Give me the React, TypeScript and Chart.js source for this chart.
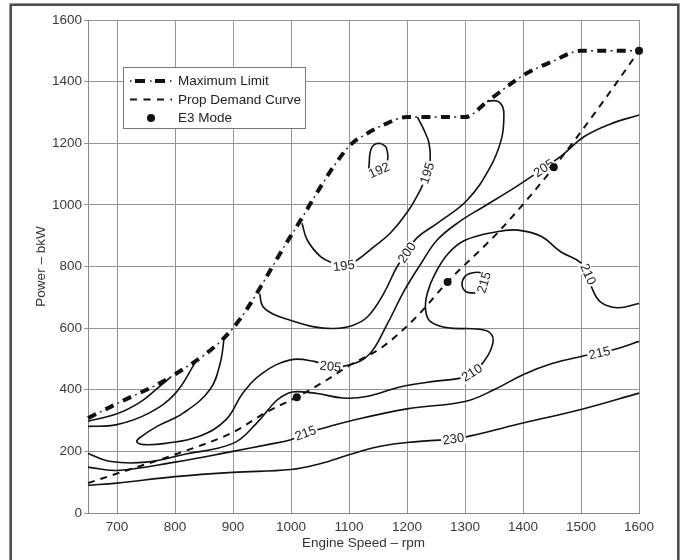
import React, { useEffect, useRef } from 'react';
import { Chart, registerables } from 'chart.js';

Chart.register(...registerables);

type Pt = [number, number];

// ---- data (rpm, bkW) ----
const maxLimit: Pt[] = [[650, 308], [700, 355], [800, 450], [900, 600], [1000, 900], [1100, 1190], [1130, 1230], [1160, 1260], [1200, 1285], [1300, 1285], [1340, 1338], [1400, 1420], [1450, 1465], [1500, 1500], [1600, 1500]];
const propDemand: Pt[] = [[650, 97], [700, 128], [800, 190], [900, 262], [960, 330], [1010, 376], [1060, 430], [1100, 478], [1160, 542], [1217, 638], [1270, 750], [1361, 919], [1453, 1122], [1540, 1340], [1600, 1500]];
const e3Mode: Pt[] = [[1010, 376], [1270, 750], [1453, 1122], [1600, 1500]];

const contour230: Pt[] = [[650, 90], [700, 97], [800, 118], [900, 132], [1000, 141], [1050, 160], [1100, 189], [1150, 215], [1200, 229], [1240, 235], [1280, 240], [1320, 255], [1400, 292], [1500, 336], [1600, 389]];
const contour215: Pt[] = [[650, 149], [700, 138], [800, 165], [900, 200], [960, 222], [1000, 238], [1025, 259], [1055, 275], [1100, 298], [1200, 338], [1300, 362], [1350, 400], [1400, 449], [1450, 485], [1500, 508], [1532, 519], [1565, 535], [1600, 557]];
const contour210: Pt[] = [[650, 193], [690, 167], [750, 165], [815, 190], [900, 226], [940, 290], [975, 365], [995, 389], [1012, 394], [1045, 388], [1090, 373], [1130, 378], [1190, 410], [1250, 428], [1290, 437], [1312, 455], [1330, 485], [1348, 550], [1343, 585], [1320, 597], [1270, 601], [1240, 622], [1232, 660], [1235, 713], [1248, 775], [1270, 840], [1300, 885], [1355, 913], [1391, 918], [1431, 898], [1465, 848], [1500, 812], [1512, 775], [1518, 734], [1534, 684], [1563, 666], [1600, 680]];
const contour205: Pt[] = [[885, 573], [878, 487], [860, 400], [814, 324], [769, 281], [742, 248], [734, 232], [746, 222], [784, 226], [842, 249], [888, 303], [917, 389], [951, 454], [999, 497], [1040, 492], [1068, 475], [1100, 480], [1135, 515], [1165, 610], [1196, 724], [1225, 812], [1252, 886], [1290, 945], [1332, 994], [1385, 1055], [1436, 1119], [1470, 1165], [1505, 1221], [1550, 1262], [1600, 1292]];
const contour200: Pt[] = [[1338, 1336], [1355, 1337], [1365, 1318], [1367, 1285], [1363, 1215], [1344, 1124], [1304, 1016], [1252, 940], [1217, 893], [1200, 845], [1183, 800], [1160, 713], [1132, 637], [1105, 608], [1074, 599], [1040, 604], [1000, 625], [970, 645], [951, 672], [946, 712]];
const contour195: Pt[] = [[1019, 940], [1028, 886], [1051, 832], [1073, 811], [1091, 802], [1114, 821], [1140, 860], [1171, 908], [1200, 975], [1223, 1049], [1235, 1103], [1240, 1146], [1238, 1200], [1230, 1240], [1218, 1285]];
const contour192: Pt[] = [[1164, 1188], [1167, 1160], [1164, 1128], [1152, 1112], [1136, 1105], [1135, 1140], [1137, 1175], [1143, 1195], [1154, 1199], [1164, 1188]];
const contour215Loop: Pt[] = [[1318, 714], [1302, 718], [1295, 740], [1300, 768], [1312, 779], [1328, 778], [1333, 748], [1318, 714]];
const contourUpperLeftA: Pt[] = [[650, 298], [700, 322], [740, 360], [770, 405], [792, 440]];
const contourUpperLeftB: Pt[] = [[650, 281], [698, 286], [755, 324], [801, 389], [836, 492]];

// label text placed on a point of a contour
const contourLabels: { series: string; at: Pt; text: string }[] = [
  { series: '230', at: [1280, 240], text: '230' },
  { series: '215', at: [1025, 259], text: '215' },
  { series: '215', at: [1532, 519], text: '215' },
  { series: '210', at: [1312, 455], text: '210' },
  { series: '210', at: [1512, 775], text: '210' },
  { series: '205', at: [1068, 475], text: '205' },
  { series: '205', at: [1436, 1119], text: '205' },
  { series: '200', at: [1200, 845], text: '200' },
  { series: '195', at: [1091, 802], text: '195' },
  { series: '195', at: [1235, 1103], text: '195' },
  { series: '192', at: [1152, 1112], text: '192' },
  { series: '215loop', at: [1333, 748], text: '215' },
];

const legendItems = ['Maximum Limit', 'Prop Demand Curve', 'E3 Mode'];

const FONT = '"Liberation Sans", Arial, Helvetica, sans-serif';

export default function App() {
  const ref = useRef<HTMLCanvasElement>(null);

  useEffect(() => {
    const canvas = ref.current!;
    const toXY = (pts: Pt[]) => pts.map(([x, y]) => ({ x, y }));

    const contours: [string, Pt[]][] = [
      ['205', contour205],
      ['230', contour230],
      ['215', contour215],
      ['210', contour210],
      ['200', contour200],
      ['195', contour195],
      ['192', contour192],
      ['215loop', contour215Loop],
      ['A', contourUpperLeftA],
      ['B', contourUpperLeftB],
    ];

    const datasets: any[] = [
      { label: 'E3', data: toXY(e3Mode), showLine: false, pointRadius: 4, pointBackgroundColor: '#111', pointBorderColor: '#111', pointBorderWidth: 0, clip: false },
      { label: 'prop', data: toXY(propDemand), borderColor: '#111', borderWidth: 2, borderDash: [7, 6], cubicInterpolationMode: 'monotone', pointRadius: 0, clip: false },
      { label: 'maxThin', data: toXY(maxLimit), borderColor: '#222', borderWidth: 1.4, borderDash: [2, 17.5], borderDashOffset: -13.25, cubicInterpolationMode: 'monotone', pointRadius: 0, clip: false },
      { label: 'maxThick', data: toXY(maxLimit), borderColor: '#111', borderWidth: 4, borderDash: [9, 10.5], cubicInterpolationMode: 'monotone', pointRadius: 0, clip: false },
      ...contours.map(([name, pts]) => ({ label: 'c' + name, data: toXY(pts), borderColor: '#111', borderWidth: 1.6, tension: 0.4, pointRadius: 0, clip: false })),
    ];
    const firstContourIndex = 4;

    const framePlugin = {
      id: 'frame',
      afterDraw(chart: any) {
        const ctx = chart.ctx;
        ctx.save();
        ctx.strokeStyle = '#4d4d4d';
        ctx.lineWidth = 2.6;
        ctx.strokeRect(10.7, 4.7, 667.6, 620);
        ctx.restore();
      },
    };

    const labelPlugin = {
      id: 'contourLabels',
      afterDatasetDraw(chart: any, args: any) {
        if (args.index !== firstContourIndex) return;
        const ctx = chart.ctx;
        ctx.save();
        ctx.font = `13px ${FONT}`;
        ctx.textAlign = 'center';
        ctx.textBaseline = 'middle';
        for (const lab of contourLabels) {
          const dsIndex = firstContourIndex + contours.findIndex((c) => c[0] === lab.series);
          const pts = contours[dsIndex - firstContourIndex][1];
          const i = pts.findIndex((p) => p[0] === lab.at[0] && p[1] === lab.at[1]);
          const meta = chart.getDatasetMeta(dsIndex);
          const el = meta.data[i];
          const prev = meta.data[Math.max(0, i - 1)];
          const next = meta.data[Math.min(meta.data.length - 1, i + 1)];
          let a = Math.atan2(next.y - prev.y, next.x - prev.x);
          if (a > Math.PI / 2) a -= Math.PI;
          if (a < -Math.PI / 2) a += Math.PI;
          const w = ctx.measureText(lab.text).width;
          ctx.save();
          ctx.translate(el.x, el.y);
          ctx.rotate(a);
          ctx.fillStyle = '#ffffff';
          ctx.fillRect(-w / 2 - 1.5, -6, w + 3, 12);
          ctx.fillStyle = '#222';
          ctx.fillText(lab.text, 0, 0.5);
          ctx.restore();
        }
        ctx.restore();
      },
    };

    const legendPlugin = {
      id: 'boxLegend',
      afterDraw(chart: any) {
        const ctx = chart.ctx;
        const ca = chart.chartArea;
        const bx = Math.round(ca.left + 35);
        const by = Math.round(ca.top + 47);
        const bw = 182;
        const bh = 61;
        ctx.save();
        ctx.fillStyle = '#fff';
        ctx.fillRect(bx, by, bw, bh);
        ctx.strokeStyle = '#777';
        ctx.lineWidth = 1;
        ctx.strokeRect(bx + 0.5, by + 0.5, bw, bh);
        const x0 = bx + 7;
        const rows = [by + 14, by + 32.5, by + 51];
        ctx.strokeStyle = '#111';
        ctx.lineCap = 'butt';
        ctx.lineWidth = 4;
        ctx.setLineDash([10, 10]);
        ctx.lineDashOffset = -5;
        ctx.beginPath();
        ctx.moveTo(x0, rows[0]);
        ctx.lineTo(x0 + 42, rows[0]);
        ctx.stroke();
        ctx.lineWidth = 1.4;
        ctx.setLineDash([1.5, 18.5]);
        ctx.lineDashOffset = 0;
        ctx.beginPath();
        ctx.moveTo(x0, rows[0]);
        ctx.lineTo(x0 + 42, rows[0]);
        ctx.stroke();
        ctx.lineWidth = 2;
        ctx.setLineDash([7, 6.5]);
        ctx.lineDashOffset = 0;
        ctx.beginPath();
        ctx.moveTo(x0, rows[1]);
        ctx.lineTo(x0 + 42, rows[1]);
        ctx.stroke();
        ctx.setLineDash([]);
        ctx.fillStyle = '#111';
        ctx.beginPath();
        ctx.arc(x0 + 21, rows[2], 4, 0, Math.PI * 2);
        ctx.fill();
        ctx.font = `13.5px ${FONT}`;
        ctx.fillStyle = '#222';
        ctx.textAlign = 'left';
        ctx.textBaseline = 'middle';
        legendItems.forEach((t, k) => ctx.fillText(t, bx + 55, rows[k] + 0.5));
        ctx.restore();
      },
    };

    const tickFont = { family: FONT, size: 13.5 };
    const plain = (v: any) => String(v);

    const chart = new Chart(canvas, {
      type: 'line',
      data: { datasets },
      options: {
        animation: false,
        responsive: false,
        devicePixelRatio: 1,
        layout: { padding: { left: 0, top: 20, right: 46, bottom: 0 } },
        plugins: { legend: { display: false }, tooltip: { enabled: false } },
        elements: { line: { borderCapStyle: 'butt' } },
        scales: {
          x: {
            type: 'linear',
            min: 650,
            max: 1600,
            afterFit: (s: any) => { s.height = 47; },
            ticks: { stepSize: 100, includeBounds: false, padding: 6, color: '#3a3a3a', font: tickFont, callback: plain },
            grid: { color: '#949494', lineWidth: 1, drawTicks: false },
            border: { color: '#8a8a8a', width: 1 },
            title: { display: true, text: 'Engine Speed – rpm', color: '#333', font: tickFont, padding: { top: 0, bottom: 9 } },
          },
          y: {
            type: 'linear',
            min: 0,
            max: 1600,
            afterFit: (s: any) => { s.width = 88; },
            ticks: { stepSize: 200, padding: 2, color: '#3a3a3a', font: tickFont, callback: plain },
            grid: { color: '#949494', lineWidth: 1, tickLength: 4 },
            border: { color: '#8a8a8a', width: 1 },
            title: { display: true, text: 'Power – bkW', color: '#333', font: tickFont, padding: { top: 33, bottom: 0 } },
          },
        },
      } as any,
      plugins: [labelPlugin, legendPlugin, framePlugin],
    });

    return () => chart.destroy();
  }, []);

  return (
    <div style={{ position: 'absolute', left: 0, top: 0, width: 685, height: 560, background: '#fff' }}>
      <canvas ref={ref} width={685} height={560} style={{ display: 'block' }} />
    </div>
  );
}
